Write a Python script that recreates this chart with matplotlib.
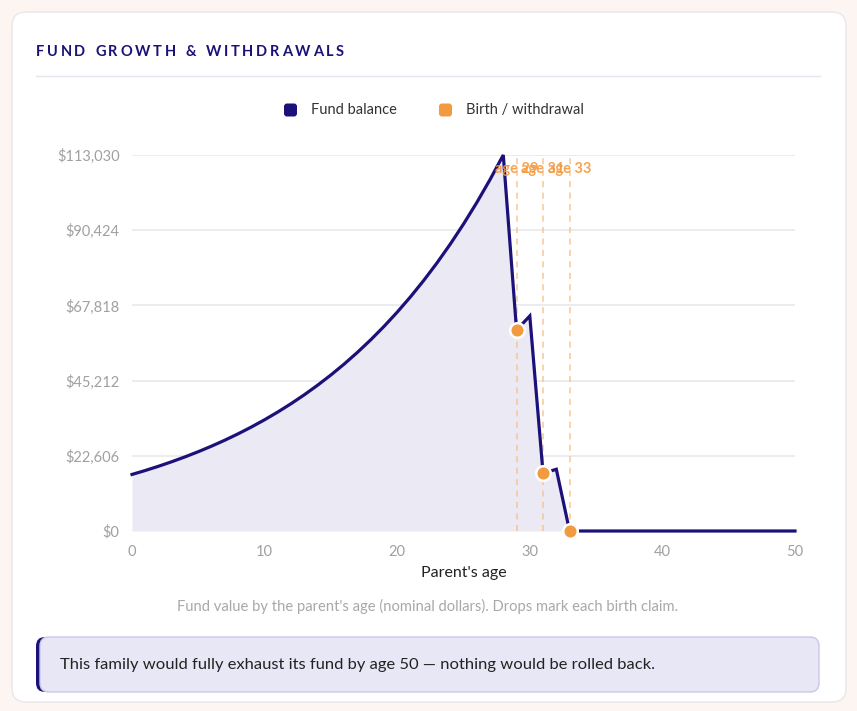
import matplotlib
matplotlib.use("Agg")
import matplotlib.pyplot as plt
from matplotlib.patches import FancyBboxPatch

plt.rcParams['font.family'] = ['Lato', 'DejaVu Sans']

# fund balance by parent's age (nominal dollars)
ages = list(range(51))
balance = [17000, 18190, 19463, 20826, 22284, 23843, 25512, 27298, 29209, 31254,
           33441, 35782, 38287, 40967, 43835, 46903, 50187, 53700, 57459, 61481,
           65784, 70389, 75316, 80589, 86230, 92266, 98724, 105635, 113030,
           60420, 64650, 17340, 18550, 0,
           0, 0, 0, 0, 0, 0, 0, 0, 0, 0, 0, 0, 0, 0, 0, 0, 0]

birth_ages = [29, 31, 33]
birth_balance = [60420, 17340, 0]
birth_labels = ["age 29", "age 31", "age 33"]

y_ticks = [0, 22606, 45212, 67818, 90424, 113030]
x_ticks = [0, 10, 20, 30, 40, 50]

NAVY = '#1b1178'
ORANGE = '#f29a40'
W, H = 857, 711


def main():
    fig = plt.figure(figsize=(W / 100, H / 100), dpi=100)
    fig.patch.set_facecolor('#fdf5f1')

    # background layer in pixel units
    bg = fig.add_axes([0, 0, 1, 1])
    bg.set_xlim(0, W)
    bg.set_ylim(H, 0)
    bg.axis('off')

    bg.add_patch(FancyBboxPatch((12, 12), 834, 690, boxstyle="round,pad=0,rounding_size=14",
                                fc='white', ec='#ebe5ea', lw=1))
    bg.plot([36, 820], [76, 76], color='#e6e4ec', lw=1)

    # title with letter spacing
    fig.canvas.draw()
    renderer = fig.canvas.get_renderer()
    x = 36
    for ch in "FUND GROWTH & WITHDRAWALS":
        if ch == ' ':
            x += 4.5 + 2.6
            continue
        t = bg.text(x, 52, ch, fontsize=10.5, fontweight='bold', color=NAVY,
                    ha='left', va='center')
        bb = t.get_window_extent(renderer)
        x += bb.width + 2.7

    # legend
    bg.add_patch(FancyBboxPatch((284, 103.5), 13, 13, boxstyle="round,pad=0,rounding_size=3",
                                fc=NAVY, ec='none'))
    bg.text(311, 110, "Fund balance", fontsize=10.5, color='#333333', va='center')
    bg.add_patch(FancyBboxPatch((439, 103.5), 13, 13, boxstyle="round,pad=0,rounding_size=3",
                                fc=ORANGE, ec='none'))
    bg.text(466, 110, "Birth / withdrawal", fontsize=10.5, color='#333333', va='center')

    # caption
    bg.text(428, 606, "Fund value by the parent's age (nominal dollars). Drops mark each birth claim.",
            fontsize=10.6, color='#a8a8a8', ha='center', va='center')

    # note box
    bg.add_patch(FancyBboxPatch((36, 637), 783, 55, boxstyle="round,pad=0,rounding_size=9",
                                fc=NAVY, ec='none'))
    bg.add_patch(FancyBboxPatch((40, 637), 779, 55, boxstyle="round,pad=0,rounding_size=9",
                                fc='#e8e7f5', ec='#cbc8e8', lw=1))
    bg.text(60, 665, "This family would fully exhaust its fund by age 50 \u2014 nothing would be rolled back.",
            fontsize=11.85, color='#222222', va='center')

    # main chart
    ax = fig.add_axes([132 / W, 1 - 531 / H, (795 - 132) / W, (531 - 155) / H])
    ax.set_facecolor('none')
    ax.set_xlim(0, 50)
    ax.set_ylim(0, 113030)

    ax.fill_between(ages, balance, 0, color='#ebe9f4', lw=0, zorder=1)
    ax.plot(ages, balance, color=NAVY, lw=2.3, zorder=3, clip_on=False,
            solid_joinstyle='miter')

    for a, lab in zip(birth_ages, birth_labels):
        ax.axvline(a, color='#f8c797', lw=1.1, ls=(0, (4, 3.5)), zorder=2)
        ax.text(a, 108800, lab, color=ORANGE, fontsize=10.5, fontweight='bold',
                ha='center', va='center', alpha=0.9, zorder=4)

    ax.plot(birth_ages, birth_balance, 'o', color=ORANGE, ms=10.5, mec='white', mew=1.8,
            zorder=5, clip_on=False)

    ax.set_yticks(y_ticks)
    ax.set_yticklabels(["${:,}".format(v) for v in y_ticks])
    ax.set_xticks(x_ticks)
    ax.tick_params(axis='both', length=0, labelsize=10.5, labelcolor='#a0a0a0')
    ax.tick_params(axis='y', pad=9)
    ax.tick_params(axis='x', pad=10)
    ax.yaxis.grid(True, color='#e6e6ec', lw=1.1)
    ax.set_axisbelow(True)
    for s in ax.spines.values():
        s.set_visible(False)

    ax.set_xlabel("Parent's age", fontsize=11.5, color='#222222', labelpad=5)

    fig.savefig("out.png", dpi=100, facecolor=fig.get_facecolor())


if __name__ == '__main__':
    main()
